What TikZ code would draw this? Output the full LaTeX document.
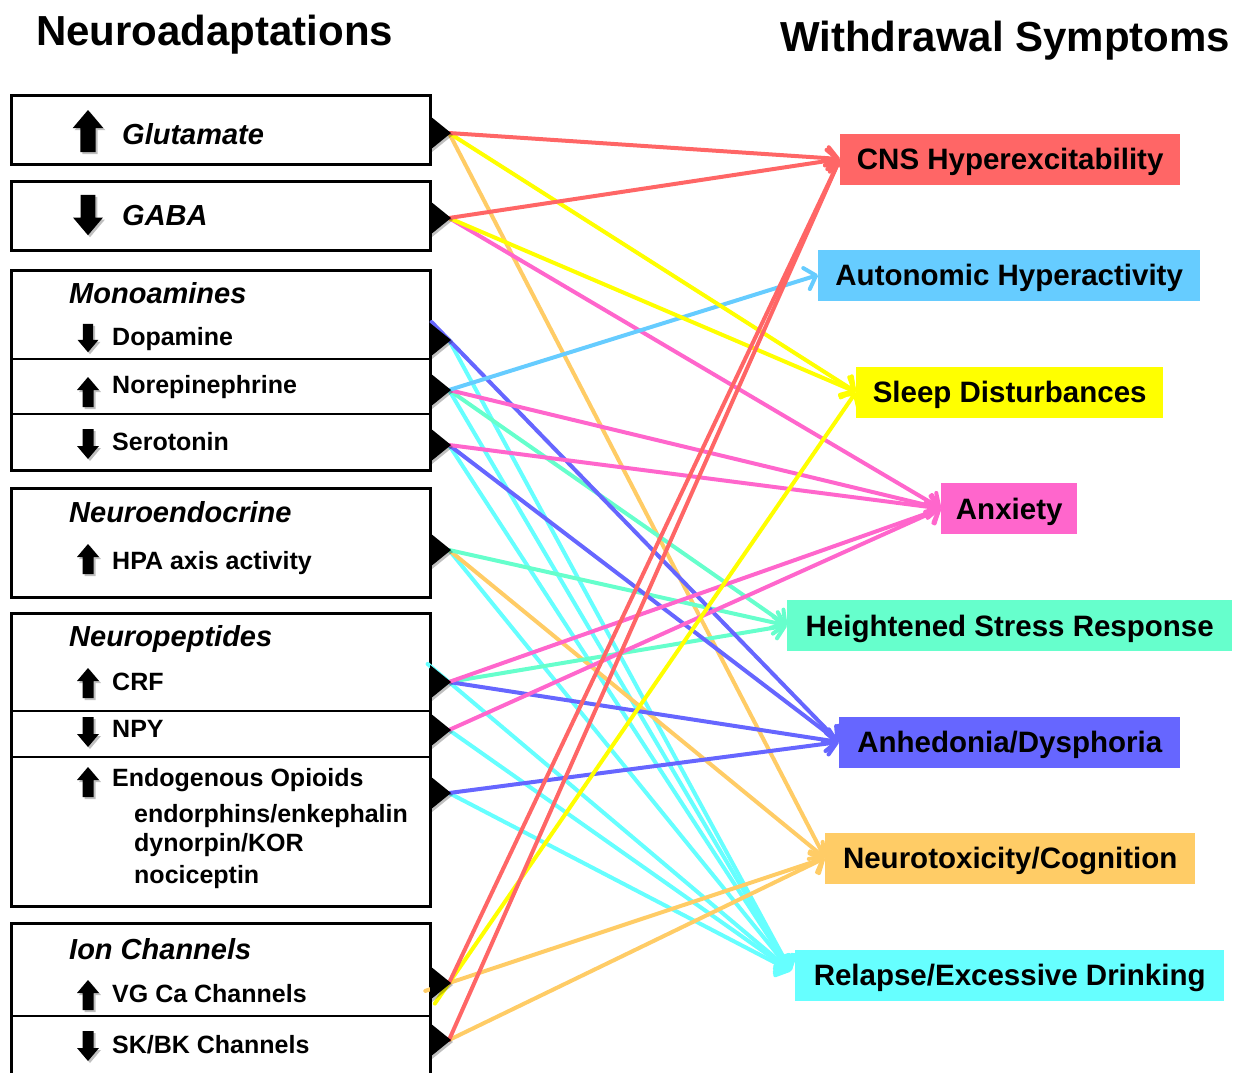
\documentclass[tikz,border=0pt]{standalone}
\usepackage{fontspec}
\setmainfont{Liberation Sans}
\usetikzlibrary{arrows.meta,shadows}
\definecolor{cRed}{HTML}{FF6666}
\definecolor{cSky}{HTML}{66CCFF}
\definecolor{cYel}{HTML}{FFFF00}
\definecolor{cPink}{HTML}{FF66CC}
\definecolor{cMint}{HTML}{66FFCC}
\definecolor{cBlue}{HTML}{6666FF}
\definecolor{cOra}{HTML}{FFCC66}
\definecolor{cCyan}{HTML}{66FFFF}
\tikzset{
  ttl/.style={anchor=base west, inner sep=0pt, font=\fontsize{42}{48}\selectfont\bfseries},
  lbl/.style={anchor=base west, inner sep=0pt, font=\fontsize{25}{30}\selectfont\bfseries},
  hdr/.style={anchor=base west, inner sep=0pt, font=\fontsize{29}{34}\selectfont\bfseries\itshape},
  big/.style={anchor=base west, inner sep=0pt, font=\fontsize{29}{34}\selectfont\bfseries\itshape},
  sympt/.style={fill=#1, anchor=west, inner sep=0pt, minimum height=51pt,
    text height=24pt, text depth=3pt, font=\fontsize{29.5}{34}\selectfont\bfseries},
  outer/.style={draw=black, line width=3pt},
  divider/.style={draw=black, line width=1.6pt},
  conn/.style={draw=#1, line width=4pt, line cap=round,
    -{Straight Barb[length=10pt,width=22pt,line cap=round,line join=round]}},
  shd/.style={drop shadow={shadow xshift=2pt,shadow yshift=-2pt,opacity=0.25,fill=black}},
  tri/.style={fill=black, shd},
}
\newcommand{\myUp}[3]{\fill[shd,shift={(#1,#2)},scale=#3] (0,-15) -- (11,-2) -- (5.5,-2) -- (5.5,15) -- (-5.5,15) -- (-5.5,-2) -- (-11,-2) -- cycle;}
\newcommand{\myDown}[3]{\fill[shd,shift={(#1,#2)},scale=#3] (0,15) -- (11,2) -- (5.5,2) -- (5.5,-15) -- (-5.5,-15) -- (-5.5,2) -- (-11,2) -- cycle;}
\newcommand{\myTri}[1]{\fill[tri] (430,#1-17) -- (451,#1) -- (430,#1+17) -- cycle;}
\begin{document}
\begin{tikzpicture}[x=1pt,y=-1pt]
\useasboundingbox (0,0) rectangle (1248,1072);

% titles
\node[ttl] (t1) at (36,45) {Neuroadaptations};
\node[ttl] (t2) at (780,51) {Withdrawal Symptoms};

% left boxes
\draw[outer] (11,95) rectangle (430,164);
\draw[outer] (11,181) rectangle (430,250);
\draw[outer] (11,270) rectangle (430,470);
\draw[divider] (11,359) -- (430,359);
\draw[divider] (11,414) -- (430,414);
\draw[outer] (11,488) rectangle (430,597);
\draw[outer] (11,613) rectangle (430,906);
\draw[divider] (11,711) -- (430,711);
\draw[divider] (11,757) -- (430,757);
\draw[outer] (11,1080) -- (11,923) -- (430,923) -- (430,1080);
\draw[divider] (11,1016) -- (430,1016);

% left texts
\node[big] (lglu) at (122,144) {Glutamate};
\node[big] (lgaba) at (122,225) {GABA};
\node[hdr] (lmono) at (69,303) {Monoamines};
\node[lbl] (ldopa) at (112,345) {Dopamine};
\node[lbl] (lnore) at (112,393) {Norepinephrine};
\node[lbl] (lsero) at (112,450) {Serotonin};
\node[hdr] (lendo) at (69,522) {Neuroendocrine};
\node[lbl] (lhpa) at (112,569) {HPA axis activity};
\node[hdr] (lpep) at (69,646) {Neuropeptides};
\node[lbl] (lcrf) at (112,690) {CRF};
\node[lbl] (lnpy) at (112,737) {NPY};
\node[lbl] (lopi) at (112,786) {Endogenous Opioids};
\node[lbl] (lo1) at (134,822) {endorphins/enkephalin};
\node[lbl] (lo2) at (134,851) {dynorpin/KOR};
\node[lbl] (lo3) at (134,883) {nociceptin};
\node[hdr] (lion) at (69,959) {Ion Channels};
\node[lbl] (lvg) at (112,1002) {VG Ca Channels};
\node[lbl] (lsk) at (112,1053) {SK/BK Channels};

% up/down arrows
\myUp{88}{131}{1.4}
\myDown{88}{215}{1.35}
\myDown{88}{338}{0.95}
\myUp{88}{392}{1}
\myDown{88}{444}{1}
\myUp{88}{559}{1}
\myUp{88}{683}{1}
\myDown{88}{732}{1}
\myUp{88}{782}{1}
\myUp{88}{995}{1}
\myDown{88}{1046}{1}

% symptom boxes
\node[sympt=cRed]  (cns)    at (840,159)   [minimum width=340pt] {CNS Hyperexcitability};
\node[sympt=cSky]  (auto)   at (818,275)   [minimum width=382pt] {Autonomic Hyperactivity};
\node[sympt=cYel]  (sleep)  at (856,392)   [minimum width=307pt] {Sleep Disturbances};
\node[sympt=cPink] (anx)    at (941,508.5) [minimum width=136pt] {Anxiety};
\node[sympt=cMint] (stress) at (787,625.5) [minimum width=445pt] {Heightened Stress Response};
\node[sympt=cBlue] (anhed)  at (839,742)   [minimum width=341pt] {Anhedonia/Dysphoria};
\node[sympt=cOra]  (neuro)  at (825,858)   [minimum width=370pt] {Neurotoxicity/Cognition};
\node[sympt=cCyan] (relapse) at (795,975)  [minimum width=429pt] {Relapse/Excessive Drinking};
\coordinate (relin) at (791,971);

% source points
\coordinate (glu) at (449,133);
\coordinate (gaba) at (449,218);
\coordinate (dopa) at (449,340);
\coordinate (nore) at (449,390);
\coordinate (sero) at (449,445);
\coordinate (hpa) at (449,550);
\coordinate (crf) at (449,682);
\coordinate (npy) at (449,730);
\coordinate (opi) at (449,793);
\coordinate (vgca) at (449,983);
\coordinate (skbk) at (449,1040);

% connectors
\draw[conn=cCyan] (dopa) -- (relin);
\draw[conn=cCyan] (nore) -- (relin);
\draw[conn=cCyan] (sero) -- (relin);
\draw[conn=cCyan] (hpa) -- (relin);
\draw[conn=cCyan, shorten <=-28pt] (crf) -- (relin);
\draw[conn=cCyan] (npy) -- (relin);
\draw[conn=cCyan] (opi) -- (relin);

\draw[conn=cOra] (glu) -- (neuro.west);
\draw[conn=cOra] (hpa) -- (neuro.west);
\draw[conn=cOra, shorten <=-25pt] (vgca) -- (neuro.west);
\draw[conn=cOra] (skbk) -- (neuro.west);

\draw[conn=cMint] (nore) -- (stress.west);
\draw[conn=cMint] (hpa) -- (stress.west);
\draw[conn=cMint] (crf) -- (stress.west);

\draw[conn=cBlue, shorten <=-25pt] (dopa) -- (anhed.west);
\draw[conn=cBlue] (sero) -- (anhed.west);
\draw[conn=cBlue] (crf) -- (anhed.west);
\draw[conn=cBlue] (opi) -- (anhed.west);

\draw[conn=cPink] (gaba) -- (anx.west);
\draw[conn=cPink] (nore) -- (anx.west);
\draw[conn=cPink] (sero) -- (anx.west);
\draw[conn=cPink] (crf) -- (anx.west);
\draw[conn=cPink] (npy) -- (anx.west);

\draw[conn=cSky] (nore) -- (auto.west);

\draw[conn=cYel] (glu) -- (sleep.west);
\draw[conn=cYel] (gaba) -- (sleep.west);
\draw[conn=cYel, shorten <=-25pt] (vgca) -- (sleep.west);

\draw[conn=cRed] (glu) -- (cns.west);
\draw[conn=cRed] (gaba) -- (cns.west);
\draw[conn=cRed] (vgca) -- (cns.west);
\draw[conn=cRed] (skbk) -- (cns.west);

% triangles
\myTri{133}
\myTri{218}
\myTri{340}
\myTri{390}
\myTri{445}
\myTri{550}
\myTri{682}
\myTri{730}
\myTri{793}
\myTri{983}
\myTri{1040}
\end{tikzpicture}
\end{document}
